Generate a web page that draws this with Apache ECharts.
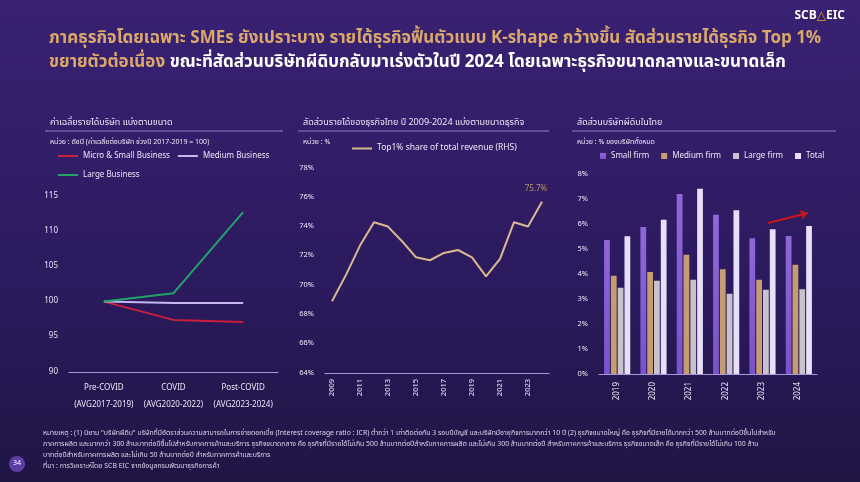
<!DOCTYPE html>
<html>
<head>
<meta charset="utf-8">
<script src="https://cdn.jsdelivr.net/npm/echarts@6/dist/echarts.min.js"></script>
<style>
  html, body { margin: 0; padding: 0; background: #2a1a5a; }
  #main { width: 860px; height: 482px; }
</style>
</head>
<body>
<div id="main"></div>
<script>
// left chart: average revenue index (2017-2019 = 100)
const periodLabels = ["Pre-COVID\n(AVG2017-2019)", "COVID\n(AVG2020-2022)", "Post-COVID\n(AVG2023-2024)"];
const microSmall = [100, 97.4, 97.1];
const mediumBiz = [100, 99.8, 99.8];
const largeBiz = [100, 101.2, 112.7];

// middle chart: top 1% share of total revenue
const shareYears = ["2009", "2010", "2011", "2012", "2013", "2014", "2015", "2016",
  "2017", "2018", "2019", "2020", "2021", "2022", "2023", "2024"];
const top1Share = [68.9, 70.7, 72.7, 74.3, 74.0, 73.0, 71.9, 71.7,
  72.2, 72.4, 71.9, 70.6, 71.8, 74.3, 74.0, 75.7];

// right chart: zombie firms share
const zombieYears = ["2019", "2020", "2021", "2022", "2023", "2024"];
const smallFirm = [5.36, 5.88, 7.2, 6.37, 5.43, 5.52];
const mediumFirm = [3.93, 4.08, 4.77, 4.19, 3.77, 4.37];
const largeFirm = [3.45, 3.73, 3.77, 3.21, 3.37, 3.39];
const totalFirm = [5.51, 6.17, 7.41, 6.55, 5.79, 5.92];

const FONT = '"Noto Sans Thai", "Noto Sans", "DejaVu Sans", sans-serif';
const TXT = "#ece6f8";
const AXIS = "#a898d8";

const footnote = [
  "หมายเหตุ : (1) นิยาม \"บริษัทผีดิบ\" บริษัทที่มีอัตราส่วนความสามารถในการจ่ายดอกเบี้ย (Interest coverage ratio : ICR) ต่ำกว่า 1 เท่าติดต่อกัน 3 รอบปีบัญชี และบริษัทมีอายุกิจการมากกว่า 10 ปี (2) ธุรกิจขนาดใหญ่ คือ ธุรกิจที่มีรายได้มากกว่า 500 ล้านบาทต่อปีขึ้นไปสำหรับ",
  "ภาคการผลิต และมากกว่า 300 ล้านบาทต่อปีขึ้นไปสำหรับภาคการค้าและบริการ ธุรกิจขนาดกลาง คือ ธุรกิจที่มีรายได้ไม่เกิน 500 ล้านบาทต่อปีสำหรับภาคการผลิต และไม่เกิน 300 ล้านบาทต่อปี สำหรับภาคการค้าและบริการ ธุรกิจขนาดเล็ก คือ ธุรกิจที่มีรายได้ไม่เกิน 100 ล้าน",
  "บาทต่อปีสำหรับภาคการผลิต และไม่เกิน 50 ล้านบาทต่อปี สำหรับภาคการค้าและบริการ",
  "ที่มา : การวิเคราะห์โดย SCB EIC จากข้อมูลกรมพัฒนาธุรกิจการค้า"
];

const chart = echarts.init(document.getElementById("main"));

const smallTitle = (text, left, top, size, color, weight) => ({
  text, left, top,
  textStyle: { color: color || TXT, fontSize: size, fontWeight: weight || "normal", fontFamily: FONT }
});

chart.setOption({
  backgroundColor: new echarts.graphic.LinearGradient(0, 0, 0, 1, [
    { offset: 0, color: "#3a2173" },
    { offset: 0.6, color: "#2b1a5d" },
    { offset: 1, color: "#1f1544" }
  ]),
  textStyle: { fontFamily: FONT },
  title: [
    smallTitle("ภาคธุรกิจโดยเฉพาะ SMEs ยังเปราะบาง รายได้ธุรกิจฟื้นตัวแบบ K-shape กว้างขึ้น สัดส่วนรายได้ธุรกิจ Top 1%", 44, 26, 17, "#d9a86a", "bold"),
    {
      text: "{g|ขยายตัวต่อเนื่อง} {w|ขณะที่สัดส่วนบริษัทผีดิบกลับมาเร่งตัวในปี 2024 โดยเฉพาะธุรกิจขนาดกลางและขนาดเล็ก}",
      left: 44, top: 50,
      textStyle: {
        fontFamily: FONT,
        rich: {
          g: { color: "#d9a86a", fontSize: 17, fontWeight: "bold", fontFamily: FONT },
          w: { color: "#ffffff", fontSize: 17, fontWeight: "bold", fontFamily: FONT }
        }
      }
    },
    {
      text: "SCB{o|△}EIC", right: 10, top: 6,
      textStyle: {
        color: "#ffffff", fontSize: 12, fontWeight: "bold", fontFamily: FONT,
        rich: { o: { color: "#f0a030", fontSize: 12, fontWeight: "bold" } }
      }
    },
    smallTitle("ค่าเฉลี่ยรายได้บริษัท แบ่งตามขนาด", 45, 114, 9),
    smallTitle("หน่วย : ดัชนี (ค่าเฉลี่ยต่อบริษัท ช่วงปี 2017-2019 = 100)", 45, 134, 7),
    smallTitle("สัดส่วนรายได้ของธุรกิจไทย ปี 2009-2024 แบ่งตามขนาดธุรกิจ", 298, 114, 9),
    smallTitle("หน่วย : %", 298, 134, 7),
    smallTitle("สัดส่วนบริษัทผีดิบในไทย", 572, 114, 9),
    smallTitle("หน่วย : % ของบริษัททั้งหมด", 572, 134, 7),
    smallTitle(footnote[0], 38, 425, 6.9, "#ddd6ee"),
    smallTitle(footnote[1], 38, 436, 6.9, "#ddd6ee"),
    smallTitle(footnote[2], 38, 447, 6.9, "#ddd6ee"),
    smallTitle(footnote[3], 38, 458, 6.9, "#ddd6ee")
  ],
  graphic: [
    { type: "line", shape: { x1: 45, y1: 131, x2: 283, y2: 131 }, style: { stroke: "#8f7fc4", lineWidth: 1 } },
    { type: "line", shape: { x1: 298, y1: 131, x2: 549, y2: 131 }, style: { stroke: "#8f7fc4", lineWidth: 1 } },
    { type: "line", shape: { x1: 572, y1: 131, x2: 836, y2: 131 }, style: { stroke: "#8f7fc4", lineWidth: 1 } },
    { type: "circle", shape: { cx: 17, cy: 464, r: 8 }, style: { fill: "#5b3fa6" } },
    { type: "text", x: 17, y: 464, style: { text: "34", fill: "#ffffff", fontSize: 7, align: "center", verticalAlign: "middle", fontFamily: FONT } }
  ],
  legend: [
    {
      left: 53, top: 147, itemWidth: 20, itemHeight: 2, itemGap: 8, icon: "rect",
      data: ["Micro & Small Business", "Medium Business"],
      textStyle: { color: TXT, fontSize: 8, fontFamily: FONT }
    },
    {
      left: 53, top: 166, itemWidth: 20, itemHeight: 2, itemGap: 8, icon: "rect",
      data: ["Large Business"],
      textStyle: { color: TXT, fontSize: 8, fontFamily: FONT }
    },
    {
      left: 347, top: 139, itemWidth: 20, itemHeight: 2, icon: "rect",
      data: ["Top1% share of total revenue (RHS)"],
      textStyle: { color: TXT, fontSize: 8.5, fontFamily: FONT }
    },
    {
      left: 595, top: 147, itemWidth: 6, itemHeight: 6, itemGap: 12, icon: "rect",
      data: ["Small firm", "Medium firm", "Large firm", "Total"],
      textStyle: { color: TXT, fontSize: 8, fontFamily: FONT }
    }
  ],
  grid: [
    { left: 69, top: 196, width: 209, height: 176 },
    { left: 325, top: 168, width: 224, height: 205 },
    { left: 599, top: 174, width: 218, height: 200 }
  ],
  xAxis: [
    {
      type: "category", gridIndex: 0, data: periodLabels,
      axisLine: { lineStyle: { color: AXIS } }, axisTick: { show: false },
      axisLabel: { color: TXT, fontSize: 8, lineHeight: 17, margin: 8, interval: 0 }
    },
    {
      type: "category", gridIndex: 1, data: shareYears,
      axisLine: { lineStyle: { color: AXIS } }, axisTick: { show: false },
      axisLabel: { color: TXT, fontSize: 7.5, rotate: 90, interval: 1, margin: 6 }
    },
    {
      type: "category", gridIndex: 2, data: zombieYears,
      axisLine: { lineStyle: { color: AXIS } }, axisTick: { show: false },
      axisLabel: { color: TXT, fontSize: 8, rotate: 90, margin: 8 }
    }
  ],
  yAxis: [
    {
      type: "value", gridIndex: 0, min: 90, max: 115, interval: 5,
      splitLine: { show: false }, axisLine: { show: false },
      axisLabel: { color: TXT, fontSize: 8, margin: 11 }
    },
    {
      type: "value", gridIndex: 1, min: 64, max: 78, interval: 2,
      splitLine: { show: false }, axisLine: { show: false },
      axisLabel: { color: TXT, fontSize: 7.5, margin: 11, formatter: "{value}%" }
    },
    {
      type: "value", gridIndex: 2, min: 0, max: 8, interval: 1,
      splitLine: { show: false }, axisLine: { show: false },
      axisLabel: { color: TXT, fontSize: 7.5, margin: 11, formatter: "{value}%" }
    }
  ],
  series: [
    {
      name: "Micro & Small Business", type: "line", xAxisIndex: 0, yAxisIndex: 0,
      data: microSmall, showSymbol: false, color: "#c8203c",
      lineStyle: { width: 2 }
    },
    {
      name: "Medium Business", type: "line", xAxisIndex: 0, yAxisIndex: 0,
      data: mediumBiz, showSymbol: false, color: "#c9b6f0",
      lineStyle: { width: 2 }
    },
    {
      name: "Large Business", type: "line", xAxisIndex: 0, yAxisIndex: 0,
      data: largeBiz, showSymbol: false, color: "#20a468",
      lineStyle: { width: 2 }
    },
    {
      name: "Top1% share of total revenue (RHS)", type: "line", xAxisIndex: 1, yAxisIndex: 1,
      data: top1Share, showSymbol: true, symbol: "circle", symbolSize: 0.1, color: "#d9b98f",
      lineStyle: { width: 2 },
      label: {
        show: true, position: "top", distance: 8, offset: [-6, 0],
        color: "#b8946a", fontSize: 8,
        formatter: (p) => (p.dataIndex === top1Share.length - 1 ? p.value + "%" : "")
      }
    },
    {
      name: "Small firm", type: "bar", xAxisIndex: 2, yAxisIndex: 2,
      data: smallFirm, barGap: "18%", barCategoryGap: "28%",
      itemStyle: {
        color: new echarts.graphic.LinearGradient(0, 0, 0, 1, [
          { offset: 0, color: "#8e68d8" },
          { offset: 1, color: "#7a52cc" }
        ])
      }
    },
    {
      name: "Medium firm", type: "bar", xAxisIndex: 2, yAxisIndex: 2,
      data: mediumFirm, itemStyle: { color: "#c79d70" }
    },
    {
      name: "Large firm", type: "bar", xAxisIndex: 2, yAxisIndex: 2,
      data: largeFirm, itemStyle: { color: "#c8c2cc" }
    },
    {
      name: "Total", type: "bar", xAxisIndex: 2, yAxisIndex: 2,
      data: totalFirm, itemStyle: { color: "#e8def7" },
      markLine: {
        silent: true, symbol: ["none", "arrow"], symbolSize: 8,
        label: { show: false },
        lineStyle: { color: "#c8161e", width: 2, type: "solid" },
        data: [[{ x: 768, y: 223 }, { x: 808, y: 213 }]]
      }
    }
  ]
});
</script>
</body>
</html>
